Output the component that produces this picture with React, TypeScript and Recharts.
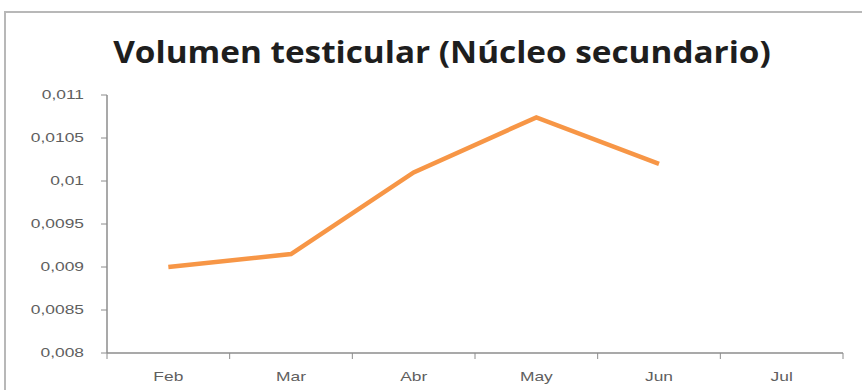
import { LineChart, Line, XAxis, YAxis } from 'recharts'

const months = ['Feb', 'Mar', 'Abr', 'May', 'Jun', 'Jul']
const volumen: (number | null)[] = [0.009, 0.00915, 0.0101, 0.01074, 0.0102, null]
const yTicks = [0.008, 0.0085, 0.009, 0.0095, 0.01, 0.0105, 0.011]

const W = 862
const H = 390
const M = { top: 95, right: 19, bottom: 0, left: 0 }
const X_H = 37
const Y_W = 107
const step = (W - M.right - Y_W) / months.length
const STRETCH = 1.45
const AXIS = '#8c8c8c'
const LABEL = '#5f5f5f'
const FONT = "'Liberation Sans', Arial, sans-serif"

const data = months.map((m, i) => ({ mes: m, v: volumen[i] }))

const fmt = (v: number) => String(v).replace('.', ',')

// category label plus Excel-style tick marks on the band edges
function MonthTick(props: any) {
  const { x, y, payload, index } = props
  return (
    <g>
      {index === 0 && <line x1={x - step / 2} x2={x - step / 2} y1={y - 8} y2={y - 2} stroke={AXIS} />}
      <line x1={x + step / 2} x2={x + step / 2} y1={y - 8} y2={y - 2} stroke={AXIS} />
      <text
        transform={`translate(${x},${y + 20}) scale(${STRETCH},1)`}
        textAnchor="middle"
        fontSize={12}
        fill={LABEL}
        fontFamily={FONT}
      >
        {payload.value}
      </text>
    </g>
  )
}

function ValueTick(props: any) {
  const { x, y, payload } = props
  return (
    <text
      transform={`translate(${x - 15},${y + 4}) scale(${STRETCH},1)`}
      textAnchor="end"
      fontSize={12}
      fill={LABEL}
      fontFamily={FONT}
    >
      {fmt(payload.value)}
    </text>
  )
}

export default function App() {
  return (
    <div style={{ position: 'absolute', left: 0, top: 0, width: W, height: H, background: '#fff', overflow: 'hidden' }}>
      <div style={{ position: 'absolute', left: 4, top: 11, width: W + 20, height: H + 20, border: '2px solid #b8b8b8' }} />
      <div
        style={{
          position: 'absolute',
          left: 11,
          top: 32,
          width: W,
          textAlign: 'center',
          fontFamily: "'Open Sans', sans-serif",
          fontWeight: 700,
          fontSize: 30,
          lineHeight: '40px',
          color: '#1e1e1e',
          transform: 'scaleX(1.11)',
          transformOrigin: `${W / 2}px 0`,
        }}
      >
        Volumen testicular (Núcleo secundario)
      </div>
      <LineChart width={W} height={H} data={data} margin={M} style={{ position: 'absolute', left: 0, top: 0 }}>
        <XAxis
          dataKey="mes"
          scale="band"
          axisLine={{ stroke: AXIS, strokeWidth: 1.5 }}
          tickLine={false}
          tick={<MonthTick />}
          interval={0}
          height={X_H}
        />
        <YAxis
          width={Y_W}
          domain={[0.008, 0.011]}
          ticks={yTicks}
          axisLine={{ stroke: AXIS, strokeWidth: 1.5 }}
          tickLine={{ stroke: AXIS }}
          tickSize={6}
          tick={<ValueTick />}
          allowDataOverflow
        />
        <Line
          type="linear"
          dataKey="v"
          stroke="#f79646"
          strokeWidth={4.5}
          dot={false}
          isAnimationActive={false}
        />
      </LineChart>
    </div>
  )
}
